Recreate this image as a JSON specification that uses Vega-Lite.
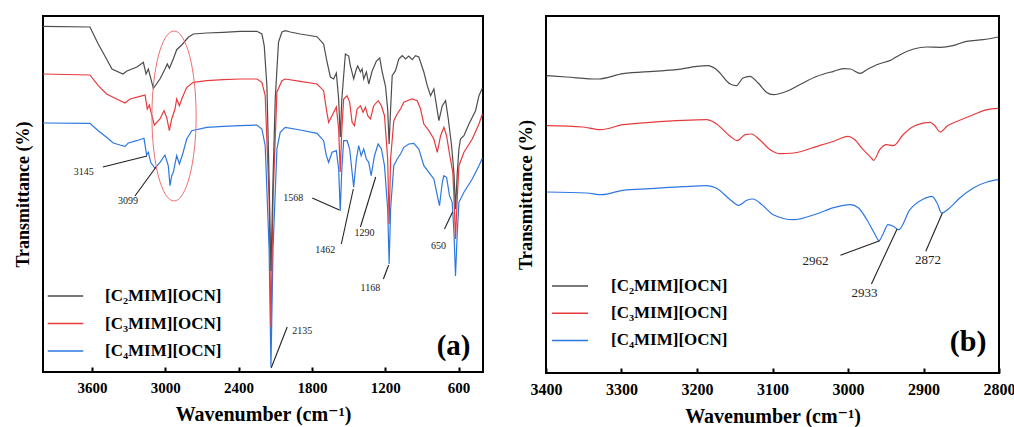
{
"$schema": "https://vega.github.io/schema/vega-lite/v6.json",
"padding": {"left": 13, "top": 15, "right": 0, "bottom": 0},
"config": {"view": {"stroke": "black", "strokeWidth": 2}, "font": "'Times New Roman', 'Liberation Serif', Times, 'DejaVu Serif', serif", "axis": {"grid": false}},
"spacing": 29,
"resolve": {"scale": {"x": "independent", "y": "independent", "color": "independent"}, "legend": {"color": "independent"}},
"datasets": {
"a": [
{"s":"[C₄MIM][OCN]","wn":4000,"T":249},{"s":"[C₄MIM][OCN]","wn":3616,"T":248.7},{"s":"[C₄MIM][OCN]","wn":3548,"T":241.3},{"s":"[C₄MIM][OCN]","wn":3480,"T":234.7},{"s":"[C₄MIM][OCN]","wn":3425,"T":229},{"s":"[C₄MIM][OCN]","wn":3370,"T":227},{"s":"[C₄MIM][OCN]","wn":3329,"T":225.7},{"s":"[C₄MIM][OCN]","wn":3302,"T":229},{"s":"[C₄MIM][OCN]","wn":3234,"T":231.3},{"s":"[C₄MIM][OCN]","wn":3174,"T":233.7},{"s":"[C₄MIM][OCN]","wn":3152,"T":217},{"s":"[C₄MIM][OCN]","wn":3138,"T":219.7},{"s":"[C₄MIM][OCN]","wn":3119,"T":209.7},{"s":"[C₄MIM][OCN]","wn":3084,"T":203.7},{"s":"[C₄MIM][OCN]","wn":3043,"T":209.7},{"s":"[C₄MIM][OCN]","wn":3002,"T":217},{"s":"[C₄MIM][OCN]","wn":2975,"T":206.3},{"s":"[C₄MIM][OCN]","wn":2961,"T":186.3},{"s":"[C₄MIM][OCN]","wn":2947,"T":196.3},{"s":"[C₄MIM][OCN]","wn":2934,"T":199.7},{"s":"[C₄MIM][OCN]","wn":2906,"T":216.3},{"s":"[C₄MIM][OCN]","wn":2884,"T":208},{"s":"[C₄MIM][OCN]","wn":2857,"T":218},{"s":"[C₄MIM][OCN]","wn":2824,"T":233},{"s":"[C₄MIM][OCN]","wn":2783,"T":241.3},{"s":"[C₄MIM][OCN]","wn":2660,"T":244.7},{"s":"[C₄MIM][OCN]","wn":2524,"T":245.7},{"s":"[C₄MIM][OCN]","wn":2387,"T":246.3},{"s":"[C₄MIM][OCN]","wn":2250,"T":247},{"s":"[C₄MIM][OCN]","wn":2209,"T":243},{"s":"[C₄MIM][OCN]","wn":2182,"T":226.3},{"s":"[C₄MIM][OCN]","wn":2150,"T":123},{"s":"[C₄MIM][OCN]","wn":2135,"T":5},{"s":"[C₄MIM][OCN]","wn":2118,"T":123},{"s":"[C₄MIM][OCN]","wn":2086,"T":223},{"s":"[C₄MIM][OCN]","wn":2059,"T":239.7},{"s":"[C₄MIM][OCN]","wn":2018,"T":244.7},{"s":"[C₄MIM][OCN]","wn":1895,"T":242},{"s":"[C₄MIM][OCN]","wn":1758,"T":238.7},{"s":"[C₄MIM][OCN]","wn":1704,"T":231.3},{"s":"[C₄MIM][OCN]","wn":1682,"T":216.3},{"s":"[C₄MIM][OCN]","wn":1663,"T":209.7},{"s":"[C₄MIM][OCN]","wn":1635,"T":219.7},{"s":"[C₄MIM][OCN]","wn":1600,"T":221.3},{"s":"[C₄MIM][OCN]","wn":1581,"T":203},{"s":"[C₄MIM][OCN]","wn":1568,"T":161},{"s":"[C₄MIM][OCN]","wn":1555,"T":203},{"s":"[C₄MIM][OCN]","wn":1540,"T":231.3},{"s":"[C₄MIM][OCN]","wn":1512,"T":231.3},{"s":"[C₄MIM][OCN]","wn":1491,"T":223},{"s":"[C₄MIM][OCN]","wn":1471,"T":199.7},{"s":"[C₄MIM][OCN]","wn":1458,"T":184.7},{"s":"[C₄MIM][OCN]","wn":1436,"T":213},{"s":"[C₄MIM][OCN]","wn":1417,"T":226.3},{"s":"[C₄MIM][OCN]","wn":1397,"T":216.3},{"s":"[C₄MIM][OCN]","wn":1376,"T":223},{"s":"[C₄MIM][OCN]","wn":1354,"T":213},{"s":"[C₄MIM][OCN]","wn":1335,"T":209.7},{"s":"[C₄MIM][OCN]","wn":1315,"T":196.3},{"s":"[C₄MIM][OCN]","wn":1288,"T":216.3},{"s":"[C₄MIM][OCN]","wn":1258,"T":228},{"s":"[C₄MIM][OCN]","wn":1231,"T":223},{"s":"[C₄MIM][OCN]","wn":1206,"T":206.3},{"s":"[C₄MIM][OCN]","wn":1180,"T":163},{"s":"[C₄MIM][OCN]","wn":1168,"T":108},{"s":"[C₄MIM][OCN]","wn":1156,"T":163},{"s":"[C₄MIM][OCN]","wn":1130,"T":206.3},{"s":"[C₄MIM][OCN]","wn":1102,"T":213},{"s":"[C₄MIM][OCN]","wn":1075,"T":218},{"s":"[C₄MIM][OCN]","wn":1048,"T":224.7},{"s":"[C₄MIM][OCN]","wn":1007,"T":228},{"s":"[C₄MIM][OCN]","wn":966,"T":228.7},{"s":"[C₄MIM][OCN]","wn":925,"T":223},{"s":"[C₄MIM][OCN]","wn":884,"T":206.3},{"s":"[C₄MIM][OCN]","wn":843,"T":199.7},{"s":"[C₄MIM][OCN]","wn":802,"T":193},{"s":"[C₄MIM][OCN]","wn":774,"T":176.3},{"s":"[C₄MIM][OCN]","wn":756,"T":166.3},{"s":"[C₄MIM][OCN]","wn":733,"T":189.7},{"s":"[C₄MIM][OCN]","wn":720,"T":196.3},{"s":"[C₄MIM][OCN]","wn":698,"T":194.7},{"s":"[C₄MIM][OCN]","wn":674,"T":176.3},{"s":"[C₄MIM][OCN]","wn":652,"T":169.7},{"s":"[C₄MIM][OCN]","wn":637,"T":138},{"s":"[C₄MIM][OCN]","wn":625,"T":96},{"s":"[C₄MIM][OCN]","wn":611,"T":138},{"s":"[C₄MIM][OCN]","wn":597,"T":169.7},{"s":"[C₄MIM][OCN]","wn":556,"T":179.7},{"s":"[C₄MIM][OCN]","wn":488,"T":193},{"s":"[C₄MIM][OCN]","wn":433,"T":206.3},{"s":"[C₄MIM][OCN]","wn":405,"T":214},
{"s":"[C₃MIM][OCN]","wn":4000,"T":298},{"s":"[C₃MIM][OCN]","wn":3616,"T":297},{"s":"[C₃MIM][OCN]","wn":3548,"T":286.3},{"s":"[C₃MIM][OCN]","wn":3480,"T":278},{"s":"[C₃MIM][OCN]","wn":3398,"T":273},{"s":"[C₃MIM][OCN]","wn":3329,"T":269},{"s":"[C₃MIM][OCN]","wn":3288,"T":273},{"s":"[C₃MIM][OCN]","wn":3206,"T":275.7},{"s":"[C₃MIM][OCN]","wn":3165,"T":277},{"s":"[C₃MIM][OCN]","wn":3147,"T":263},{"s":"[C₃MIM][OCN]","wn":3130,"T":267},{"s":"[C₃MIM][OCN]","wn":3116,"T":259.7},{"s":"[C₃MIM][OCN]","wn":3089,"T":247},{"s":"[C₃MIM][OCN]","wn":3043,"T":253},{"s":"[C₃MIM][OCN]","wn":3010,"T":261.3},{"s":"[C₃MIM][OCN]","wn":2988,"T":254.7},{"s":"[C₃MIM][OCN]","wn":2966,"T":241.3},{"s":"[C₃MIM][OCN]","wn":2947,"T":253},{"s":"[C₃MIM][OCN]","wn":2920,"T":263},{"s":"[C₃MIM][OCN]","wn":2906,"T":273},{"s":"[C₃MIM][OCN]","wn":2884,"T":266.3},{"s":"[C₃MIM][OCN]","wn":2865,"T":273},{"s":"[C₃MIM][OCN]","wn":2824,"T":284.7},{"s":"[C₃MIM][OCN]","wn":2770,"T":289.7},{"s":"[C₃MIM][OCN]","wn":2660,"T":291.3},{"s":"[C₃MIM][OCN]","wn":2524,"T":292.3},{"s":"[C₃MIM][OCN]","wn":2387,"T":293},{"s":"[C₃MIM][OCN]","wn":2250,"T":293},{"s":"[C₃MIM][OCN]","wn":2209,"T":289.7},{"s":"[C₃MIM][OCN]","wn":2182,"T":276.3},{"s":"[C₃MIM][OCN]","wn":2150,"T":173},{"s":"[C₃MIM][OCN]","wn":2135,"T":45},{"s":"[C₃MIM][OCN]","wn":2118,"T":173},{"s":"[C₃MIM][OCN]","wn":2086,"T":280},{"s":"[C₃MIM][OCN]","wn":2045,"T":291.3},{"s":"[C₃MIM][OCN]","wn":2018,"T":293},{"s":"[C₃MIM][OCN]","wn":1895,"T":290.7},{"s":"[C₃MIM][OCN]","wn":1758,"T":288},{"s":"[C₃MIM][OCN]","wn":1704,"T":281.3},{"s":"[C₃MIM][OCN]","wn":1682,"T":263},{"s":"[C₃MIM][OCN]","wn":1663,"T":249.7},{"s":"[C₃MIM][OCN]","wn":1635,"T":256.3},{"s":"[C₃MIM][OCN]","wn":1600,"T":265},{"s":"[C₃MIM][OCN]","wn":1581,"T":243},{"s":"[C₃MIM][OCN]","wn":1568,"T":200},{"s":"[C₃MIM][OCN]","wn":1555,"T":243},{"s":"[C₃MIM][OCN]","wn":1540,"T":273},{"s":"[C₃MIM][OCN]","wn":1512,"T":276.3},{"s":"[C₃MIM][OCN]","wn":1491,"T":269.7},{"s":"[C₃MIM][OCN]","wn":1471,"T":249.7},{"s":"[C₃MIM][OCN]","wn":1452,"T":246.3},{"s":"[C₃MIM][OCN]","wn":1430,"T":263},{"s":"[C₃MIM][OCN]","wn":1403,"T":266.3},{"s":"[C₃MIM][OCN]","wn":1381,"T":259.7},{"s":"[C₃MIM][OCN]","wn":1362,"T":264.7},{"s":"[C₃MIM][OCN]","wn":1343,"T":256.3},{"s":"[C₃MIM][OCN]","wn":1321,"T":253},{"s":"[C₃MIM][OCN]","wn":1294,"T":266.3},{"s":"[C₃MIM][OCN]","wn":1258,"T":271.3},{"s":"[C₃MIM][OCN]","wn":1231,"T":266.3},{"s":"[C₃MIM][OCN]","wn":1206,"T":256.3},{"s":"[C₃MIM][OCN]","wn":1180,"T":213},{"s":"[C₃MIM][OCN]","wn":1168,"T":148},{"s":"[C₃MIM][OCN]","wn":1156,"T":213},{"s":"[C₃MIM][OCN]","wn":1130,"T":251.3},{"s":"[C₃MIM][OCN]","wn":1102,"T":258},{"s":"[C₃MIM][OCN]","wn":1075,"T":263},{"s":"[C₃MIM][OCN]","wn":1048,"T":269.7},{"s":"[C₃MIM][OCN]","wn":1020,"T":271.3},{"s":"[C₃MIM][OCN]","wn":979,"T":273},{"s":"[C₃MIM][OCN]","wn":938,"T":271.3},{"s":"[C₃MIM][OCN]","wn":911,"T":263},{"s":"[C₃MIM][OCN]","wn":884,"T":248},{"s":"[C₃MIM][OCN]","wn":843,"T":241.3},{"s":"[C₃MIM][OCN]","wn":802,"T":233},{"s":"[C₃MIM][OCN]","wn":774,"T":219.7},{"s":"[C₃MIM][OCN]","wn":747,"T":236.3},{"s":"[C₃MIM][OCN]","wn":720,"T":244.7},{"s":"[C₃MIM][OCN]","wn":698,"T":236.3},{"s":"[C₃MIM][OCN]","wn":674,"T":218},{"s":"[C₃MIM][OCN]","wn":647,"T":199.7},{"s":"[C₃MIM][OCN]","wn":637,"T":173},{"s":"[C₃MIM][OCN]","wn":625,"T":133},{"s":"[C₃MIM][OCN]","wn":611,"T":173},{"s":"[C₃MIM][OCN]","wn":597,"T":206.3},{"s":"[C₃MIM][OCN]","wn":556,"T":219.7},{"s":"[C₃MIM][OCN]","wn":488,"T":233},{"s":"[C₃MIM][OCN]","wn":433,"T":248},{"s":"[C₃MIM][OCN]","wn":405,"T":258},
{"s":"[C₂MIM][OCN]","wn":4000,"T":345.7},{"s":"[C₂MIM][OCN]","wn":3616,"T":345},{"s":"[C₂MIM][OCN]","wn":3548,"T":328},{"s":"[C₂MIM][OCN]","wn":3480,"T":313},{"s":"[C₂MIM][OCN]","wn":3436,"T":303},{"s":"[C₂MIM][OCN]","wn":3346,"T":298},{"s":"[C₂MIM][OCN]","wn":3313,"T":301},{"s":"[C₂MIM][OCN]","wn":3231,"T":305},{"s":"[C₂MIM][OCN]","wn":3179,"T":309.7},{"s":"[C₂MIM][OCN]","wn":3157,"T":298},{"s":"[C₂MIM][OCN]","wn":3138,"T":303},{"s":"[C₂MIM][OCN]","wn":3097,"T":283.7},{"s":"[C₂MIM][OCN]","wn":3043,"T":293},{"s":"[C₂MIM][OCN]","wn":3002,"T":303},{"s":"[C₂MIM][OCN]","wn":2983,"T":308},{"s":"[C₂MIM][OCN]","wn":2966,"T":303.7},{"s":"[C₂MIM][OCN]","wn":2934,"T":313},{"s":"[C₂MIM][OCN]","wn":2906,"T":322.3},{"s":"[C₂MIM][OCN]","wn":2865,"T":327},{"s":"[C₂MIM][OCN]","wn":2811,"T":334.7},{"s":"[C₂MIM][OCN]","wn":2770,"T":338},{"s":"[C₂MIM][OCN]","wn":2660,"T":339},{"s":"[C₂MIM][OCN]","wn":2524,"T":339.7},{"s":"[C₂MIM][OCN]","wn":2387,"T":340.7},{"s":"[C₂MIM][OCN]","wn":2250,"T":340.7},{"s":"[C₂MIM][OCN]","wn":2209,"T":338},{"s":"[C₂MIM][OCN]","wn":2190,"T":326.3},{"s":"[C₂MIM][OCN]","wn":2168,"T":286.3},{"s":"[C₂MIM][OCN]","wn":2150,"T":193},{"s":"[C₂MIM][OCN]","wn":2135,"T":101},{"s":"[C₂MIM][OCN]","wn":2118,"T":193},{"s":"[C₂MIM][OCN]","wn":2100,"T":273},{"s":"[C₂MIM][OCN]","wn":2073,"T":330},{"s":"[C₂MIM][OCN]","wn":2045,"T":340},{"s":"[C₂MIM][OCN]","wn":2018,"T":341.3},{"s":"[C₂MIM][OCN]","wn":1977,"T":340},{"s":"[C₂MIM][OCN]","wn":1895,"T":338},{"s":"[C₂MIM][OCN]","wn":1758,"T":335.3},{"s":"[C₂MIM][OCN]","wn":1704,"T":328},{"s":"[C₂MIM][OCN]","wn":1676,"T":310},{"s":"[C₂MIM][OCN]","wn":1649,"T":295},{"s":"[C₂MIM][OCN]","wn":1622,"T":293},{"s":"[C₂MIM][OCN]","wn":1600,"T":299},{"s":"[C₂MIM][OCN]","wn":1581,"T":273},{"s":"[C₂MIM][OCN]","wn":1568,"T":235},{"s":"[C₂MIM][OCN]","wn":1555,"T":273},{"s":"[C₂MIM][OCN]","wn":1526,"T":318},{"s":"[C₂MIM][OCN]","wn":1499,"T":316},{"s":"[C₂MIM][OCN]","wn":1485,"T":306},{"s":"[C₂MIM][OCN]","wn":1458,"T":293},{"s":"[C₂MIM][OCN]","wn":1436,"T":303},{"s":"[C₂MIM][OCN]","wn":1425,"T":306},{"s":"[C₂MIM][OCN]","wn":1403,"T":300},{"s":"[C₂MIM][OCN]","wn":1389,"T":303},{"s":"[C₂MIM][OCN]","wn":1376,"T":293},{"s":"[C₂MIM][OCN]","wn":1354,"T":300},{"s":"[C₂MIM][OCN]","wn":1335,"T":288},{"s":"[C₂MIM][OCN]","wn":1307,"T":301},{"s":"[C₂MIM][OCN]","wn":1272,"T":311},{"s":"[C₂MIM][OCN]","wn":1245,"T":314},{"s":"[C₂MIM][OCN]","wn":1225,"T":300},{"s":"[C₂MIM][OCN]","wn":1198,"T":286},{"s":"[C₂MIM][OCN]","wn":1180,"T":263},{"s":"[C₂MIM][OCN]","wn":1168,"T":228},{"s":"[C₂MIM][OCN]","wn":1156,"T":263},{"s":"[C₂MIM][OCN]","wn":1143,"T":296.3},{"s":"[C₂MIM][OCN]","wn":1116,"T":301.3},{"s":"[C₂MIM][OCN]","wn":1089,"T":313},{"s":"[C₂MIM][OCN]","wn":1061,"T":316.3},{"s":"[C₂MIM][OCN]","wn":1034,"T":313},{"s":"[C₂MIM][OCN]","wn":1007,"T":316},{"s":"[C₂MIM][OCN]","wn":979,"T":312.3},{"s":"[C₂MIM][OCN]","wn":952,"T":316.3},{"s":"[C₂MIM][OCN]","wn":925,"T":315},{"s":"[C₂MIM][OCN]","wn":884,"T":300},{"s":"[C₂MIM][OCN]","wn":856,"T":286.3},{"s":"[C₂MIM][OCN]","wn":829,"T":276.3},{"s":"[C₂MIM][OCN]","wn":802,"T":283},{"s":"[C₂MIM][OCN]","wn":761,"T":251.3},{"s":"[C₂MIM][OCN]","wn":733,"T":266.3},{"s":"[C₂MIM][OCN]","wn":706,"T":271.3},{"s":"[C₂MIM][OCN]","wn":684,"T":253},{"s":"[C₂MIM][OCN]","wn":657,"T":226.3},{"s":"[C₂MIM][OCN]","wn":637,"T":198},{"s":"[C₂MIM][OCN]","wn":625,"T":163},{"s":"[C₂MIM][OCN]","wn":611,"T":198},{"s":"[C₂MIM][OCN]","wn":597,"T":223},{"s":"[C₂MIM][OCN]","wn":584,"T":233},{"s":"[C₂MIM][OCN]","wn":556,"T":236.3},{"s":"[C₂MIM][OCN]","wn":515,"T":248},{"s":"[C₂MIM][OCN]","wn":461,"T":261.3},{"s":"[C₂MIM][OCN]","wn":433,"T":276.3},{"s":"[C₂MIM][OCN]","wn":405,"T":284}
],
"aRules": [
{"wn":3510,"T":205,"wn2":3149,"T2":216},{"wn":3248,"T":176,"wn2":3075,"T2":205},{"wn":1797,"T":174,"wn2":1575,"T2":162},{"wn":1559,"T":128,"wn2":1461,"T2":183},{"wn":1403,"T":145,"wn2":1278,"T2":195},{"wn":1215,"T":93,"wn2":1172,"T2":107},{"wn":715,"T":143,"wn2":649,"T2":160},{"wn":2133,"T":4,"wn2":2002,"T2":45}
],
"aText": [
{"label":"3145","wn":3666,"T":200},{"label":"3099","wn":3305,"T":171},{"label":"1568","wn":1952,"T":174},{"label":"1462","wn":1690,"T":122},{"label":"1290","wn":1370,"T":139},{"label":"1168","wn":1321,"T":84},{"label":"650","wn":764,"T":126},{"label":"2135","wn":1879,"T":41}
],
"b": [
{"s":"[C₄MIM][OCN]","wn":3399,"T":181},{"s":"[C₄MIM][OCN]","wn":3346,"T":180},{"s":"[C₄MIM][OCN]","wn":3326,"T":178.3},{"s":"[C₄MIM][OCN]","wn":3298,"T":182.7},{"s":"[C₄MIM][OCN]","wn":3262,"T":184.3},{"s":"[C₄MIM][OCN]","wn":3218,"T":186.3},{"s":"[C₄MIM][OCN]","wn":3187,"T":187.3},{"s":"[C₄MIM][OCN]","wn":3174,"T":184.7},{"s":"[C₄MIM][OCN]","wn":3156,"T":173.3},{"s":"[C₄MIM][OCN]","wn":3145,"T":167.7},{"s":"[C₄MIM][OCN]","wn":3134,"T":172.7},{"s":"[C₄MIM][OCN]","wn":3126,"T":174},{"s":"[C₄MIM][OCN]","wn":3114,"T":168.3},{"s":"[C₄MIM][OCN]","wn":3099,"T":158.3},{"s":"[C₄MIM][OCN]","wn":3072,"T":153.3},{"s":"[C₄MIM][OCN]","wn":3041,"T":159.3},{"s":"[C₄MIM][OCN]","wn":3019,"T":165.3},{"s":"[C₄MIM][OCN]","wn":2997,"T":168.3},{"s":"[C₄MIM][OCN]","wn":2986,"T":165},{"s":"[C₄MIM][OCN]","wn":2975,"T":153.3},{"s":"[C₄MIM][OCN]","wn":2964,"T":138.3},{"s":"[C₄MIM][OCN]","wn":2959,"T":132.3},{"s":"[C₄MIM][OCN]","wn":2953,"T":140},{"s":"[C₄MIM][OCN]","wn":2947,"T":148.3},{"s":"[C₄MIM][OCN]","wn":2940,"T":146.7},{"s":"[C₄MIM][OCN]","wn":2933,"T":143.3},{"s":"[C₄MIM][OCN]","wn":2918,"T":163.3},{"s":"[C₄MIM][OCN]","wn":2900,"T":174},{"s":"[C₄MIM][OCN]","wn":2889,"T":176.7},{"s":"[C₄MIM][OCN]","wn":2882,"T":170},{"s":"[C₄MIM][OCN]","wn":2876,"T":160},{"s":"[C₄MIM][OCN]","wn":2867,"T":164},{"s":"[C₄MIM][OCN]","wn":2852,"T":175},{"s":"[C₄MIM][OCN]","wn":2834,"T":185},{"s":"[C₄MIM][OCN]","wn":2816,"T":191},{"s":"[C₄MIM][OCN]","wn":2801,"T":193.3},
{"s":"[C₃MIM][OCN]","wn":3399,"T":247.3},{"s":"[C₃MIM][OCN]","wn":3351,"T":246},{"s":"[C₃MIM][OCN]","wn":3328,"T":243.3},{"s":"[C₃MIM][OCN]","wn":3298,"T":248.3},{"s":"[C₃MIM][OCN]","wn":3262,"T":250.7},{"s":"[C₃MIM][OCN]","wn":3218,"T":252.7},{"s":"[C₃MIM][OCN]","wn":3187,"T":253.3},{"s":"[C₃MIM][OCN]","wn":3176,"T":250},{"s":"[C₃MIM][OCN]","wn":3156,"T":236.7},{"s":"[C₃MIM][OCN]","wn":3147,"T":232.3},{"s":"[C₃MIM][OCN]","wn":3136,"T":238.3},{"s":"[C₃MIM][OCN]","wn":3128,"T":239},{"s":"[C₃MIM][OCN]","wn":3117,"T":233.3},{"s":"[C₃MIM][OCN]","wn":3103,"T":223.3},{"s":"[C₃MIM][OCN]","wn":3090,"T":219.3},{"s":"[C₃MIM][OCN]","wn":3072,"T":220},{"s":"[C₃MIM][OCN]","wn":3041,"T":226.7},{"s":"[C₃MIM][OCN]","wn":3019,"T":231.7},{"s":"[C₃MIM][OCN]","wn":3000,"T":236.7},{"s":"[C₃MIM][OCN]","wn":2991,"T":233.3},{"s":"[C₃MIM][OCN]","wn":2980,"T":223.3},{"s":"[C₃MIM][OCN]","wn":2971,"T":216.7},{"s":"[C₃MIM][OCN]","wn":2966,"T":212.7},{"s":"[C₃MIM][OCN]","wn":2958,"T":223.3},{"s":"[C₃MIM][OCN]","wn":2949,"T":228.3},{"s":"[C₃MIM][OCN]","wn":2940,"T":227.3},{"s":"[C₃MIM][OCN]","wn":2927,"T":238.3},{"s":"[C₃MIM][OCN]","wn":2913,"T":246.7},{"s":"[C₃MIM][OCN]","wn":2891,"T":250.7},{"s":"[C₃MIM][OCN]","wn":2885,"T":247.3},{"s":"[C₃MIM][OCN]","wn":2878,"T":241},{"s":"[C₃MIM][OCN]","wn":2869,"T":246.7},{"s":"[C₃MIM][OCN]","wn":2852,"T":252.7},{"s":"[C₃MIM][OCN]","wn":2834,"T":258.3},{"s":"[C₃MIM][OCN]","wn":2816,"T":263.3},{"s":"[C₃MIM][OCN]","wn":2801,"T":264.7},
{"s":"[C₂MIM][OCN]","wn":3399,"T":297.3},{"s":"[C₂MIM][OCN]","wn":3373,"T":296},{"s":"[C₂MIM][OCN]","wn":3331,"T":294},{"s":"[C₂MIM][OCN]","wn":3298,"T":299.3},{"s":"[C₂MIM][OCN]","wn":3258,"T":301.7},{"s":"[C₂MIM][OCN]","wn":3227,"T":303.3},{"s":"[C₂MIM][OCN]","wn":3200,"T":306.7},{"s":"[C₂MIM][OCN]","wn":3185,"T":307.3},{"s":"[C₂MIM][OCN]","wn":3174,"T":303.3},{"s":"[C₂MIM][OCN]","wn":3156,"T":289},{"s":"[C₂MIM][OCN]","wn":3148,"T":287.3},{"s":"[C₂MIM][OCN]","wn":3139,"T":295},{"s":"[C₂MIM][OCN]","wn":3130,"T":296.7},{"s":"[C₂MIM][OCN]","wn":3119,"T":290},{"s":"[C₂MIM][OCN]","wn":3108,"T":280.7},{"s":"[C₂MIM][OCN]","wn":3099,"T":278.3},{"s":"[C₂MIM][OCN]","wn":3081,"T":281.7},{"s":"[C₂MIM][OCN]","wn":3064,"T":288.3},{"s":"[C₂MIM][OCN]","wn":3041,"T":296.7},{"s":"[C₂MIM][OCN]","wn":3019,"T":301.7},{"s":"[C₂MIM][OCN]","wn":3006,"T":304.3},{"s":"[C₂MIM][OCN]","wn":2997,"T":304},{"s":"[C₂MIM][OCN]","wn":2984,"T":299.7},{"s":"[C₂MIM][OCN]","wn":2975,"T":303.3},{"s":"[C₂MIM][OCN]","wn":2962,"T":308.3},{"s":"[C₂MIM][OCN]","wn":2942,"T":313.3},{"s":"[C₂MIM][OCN]","wn":2931,"T":318.3},{"s":"[C₂MIM][OCN]","wn":2913,"T":324},{"s":"[C₂MIM][OCN]","wn":2896,"T":326},{"s":"[C₂MIM][OCN]","wn":2878,"T":325.7},{"s":"[C₂MIM][OCN]","wn":2861,"T":327.3},{"s":"[C₂MIM][OCN]","wn":2843,"T":331.7},{"s":"[C₂MIM][OCN]","wn":2821,"T":333.3},{"s":"[C₂MIM][OCN]","wn":2801,"T":336}
],
"bRules": [
{"wn":3010,"T":117.7,"wn2":2958,"T2":132.3},{"wn":2969,"T":89,"wn2":2935,"T2":144},{"wn":2897,"T":121.7,"wn2":2875,"T2":160}
],
"bText": [
{"label":"2962","wn":3043,"T":111.7},{"label":"2933","wn":2978,"T":80},{"label":"2872","wn":2894,"T":113.3}
]
},
"hconcat": [
{
"width": 440, "height": 356,
"layer": [
{"data": {"name": "a"}, "mark": {"type": "line", "strokeWidth": 1.2},
 "encoding": {
  "x": {"field": "wn", "type": "quantitative", "scale": {"domain": [400, 4000], "reverse": true, "nice": false, "zero": false},
    "axis": {"title": "Wavenumber (cm⁻¹)", "values": [3600, 3000, 2400, 1800, 1200, 600], "format": "d", "labelFontSize": 15, "labelFontWeight": "bold", "labelColor": "black", "labelFlush": false, "labelOverlap": false, "tickSize": -5, "tickWidth": 2, "tickColor": "black", "domain": false, "labelPadding": 13, "titleFontSize": 20, "titleFontWeight": "bold", "titleColor": "black", "titlePadding": 9}},
  "y": {"field": "T", "type": "quantitative", "scale": {"domain": [0, 356], "nice": false, "zero": false},
    "axis": {"title": "Transmittance (%)", "labels": false, "ticks": false, "domain": false, "titleFontSize": 18, "titleFontWeight": "bold", "titleColor": "black", "titlePadding": 11}},
  "color": {"field": "s", "type": "nominal", "scale": {"domain": ["[C₂MIM][OCN]", "[C₃MIM][OCN]", "[C₄MIM][OCN]"], "range": ["#4d4d4d", "#e63b3e", "#2d78e0"]},
    "legend": {"orient": "none", "legendX": 4, "legendY": 270, "title": null, "symbolType": "stroke", "symbolSize": 1260, "symbolStrokeWidth": 1.5, "labelFontSize": 17, "labelFontWeight": "bold", "labelColor": "black", "labelOffset": 21, "clipHeight": 20, "rowPadding": 7.5, "padding": 0, "labelLimit": 300}}
 }},
{"data": {"name": "aRules"}, "mark": {"type": "rule", "color": "#222222", "strokeWidth": 1.1},
 "encoding": {"x": {"field": "wn", "type": "quantitative"}, "y": {"field": "T", "type": "quantitative"}, "x2": {"field": "wn2"}, "y2": {"field": "T2"}}},
{"data": {"name": "aText"}, "mark": {"type": "text", "fontSize": 10, "color": "#222222", "align": "center", "baseline": "middle"},
 "encoding": {"x": {"field": "wn", "type": "quantitative"}, "y": {"field": "T", "type": "quantitative"}, "text": {"field": "label"}}},
{"data": {"values": [{"label": "(a)", "wn": 641, "T": 26}]}, "mark": {"type": "text", "fontSize": 29, "fontWeight": "bold", "color": "black", "align": "center", "baseline": "middle"},
 "encoding": {"x": {"field": "wn", "type": "quantitative"}, "y": {"field": "T", "type": "quantitative"}, "text": {"field": "label"}}},
{"data": {"values": [{"wn": 2928, "T": 256}]}, "mark": {"type": "point", "shape": "M0,-1C0.1436,-1 0.26,-0.5523 0.26,0C0.26,0.5523 0.1436,1 0,1C-0.1436,1 -0.26,0.5523 -0.26,0C-0.26,-0.5523 -0.1436,-1 0,-1Z", "size": 28900, "filled": false, "stroke": "#ec6f6f", "strokeWidth": 1, "opacity": 1},
 "encoding": {"x": {"field": "wn", "type": "quantitative"}, "y": {"field": "T", "type": "quantitative"}}}
]
},
{
"width": 453, "height": 357,
"layer": [
{"data": {"name": "b"}, "mark": {"type": "line", "strokeWidth": 1.2, "interpolate": "monotone"},
 "encoding": {
  "x": {"field": "wn", "type": "quantitative", "scale": {"domain": [2800, 3400], "reverse": true, "nice": false, "zero": false},
    "axis": {"title": "Wavenumber (cm⁻¹)", "values": [3400, 3300, 3200, 3100, 3000, 2900, 2800], "format": "d", "labelFontSize": 16, "labelFontWeight": "bold", "labelColor": "black", "labelFlush": false, "labelOverlap": false, "tickSize": -5, "tickWidth": 2, "tickColor": "black", "domain": false, "labelPadding": 13, "titleFontSize": 20, "titleFontWeight": "bold", "titleColor": "black", "titlePadding": 9}},
  "y": {"field": "T", "type": "quantitative", "scale": {"domain": [0, 357], "nice": false, "zero": false},
    "axis": {"title": "Transmittance (%)", "labels": false, "ticks": false, "domain": false, "titleFontSize": 18.5, "titleFontWeight": "bold", "titleColor": "black", "titlePadding": 11}},
  "color": {"field": "s", "type": "nominal", "scale": {"domain": ["[C₂MIM][OCN]", "[C₃MIM][OCN]", "[C₄MIM][OCN]"], "range": ["#4d4d4d", "#e63b3e", "#2d78e0"]},
    "legend": {"orient": "none", "legendX": 5, "legendY": 260, "title": null, "symbolType": "stroke", "symbolSize": 1300, "symbolStrokeWidth": 1.5, "labelFontSize": 17, "labelFontWeight": "bold", "labelColor": "black", "labelOffset": 22, "clipHeight": 20, "rowPadding": 7.2, "padding": 0, "labelLimit": 300}}
 }},
{"data": {"name": "bRules"}, "mark": {"type": "rule", "color": "#222222", "strokeWidth": 1.1},
 "encoding": {"x": {"field": "wn", "type": "quantitative"}, "y": {"field": "T", "type": "quantitative"}, "x2": {"field": "wn2"}, "y2": {"field": "T2"}}},
{"data": {"name": "bText"}, "mark": {"type": "text", "fontSize": 13, "color": "#222222", "align": "center", "baseline": "middle"},
 "encoding": {"x": {"field": "wn", "type": "quantitative"}, "y": {"field": "T", "type": "quantitative"}, "text": {"field": "label"}}},
{"data": {"values": [{"label": "(b)", "wn": 2841, "T": 30.7}]}, "mark": {"type": "text", "fontSize": 30, "fontWeight": "bold", "color": "black", "align": "center", "baseline": "middle"},
 "encoding": {"x": {"field": "wn", "type": "quantitative"}, "y": {"field": "T", "type": "quantitative"}, "text": {"field": "label"}}}
]
}
]
}
